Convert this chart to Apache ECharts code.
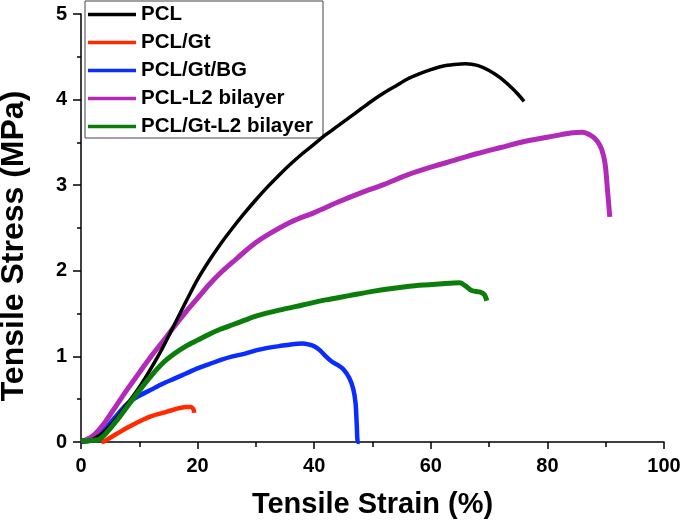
<!DOCTYPE html>
<html>
<head>
<meta charset="utf-8">
<script src="https://cdn.jsdelivr.net/npm/echarts@6/dist/echarts.min.js"></script>
<style>html,body{margin:0;padding:0;background:#fff}#c{width:685px;height:520px}</style>
</head>
<body>
<div id="c"></div>
<script>
// Tensile strain (%) / stress (MPa) pairs
const seriesNames = ['PCL', 'PCL/Gt', 'PCL/Gt/BG', 'PCL-L2 bilayer', 'PCL/Gt-L2 bilayer'];
const pclData = [[0,0],[1,0.01],[2,0.03],[3,0.07],[4,0.12],[6,0.27],[8,0.45],[10,0.64],[12,0.86],[14,1.10],[16,1.37],[18,1.64],[20,1.90],[22,2.12],[24,2.32],[26,2.50],[28,2.67],[30,2.83],[32,2.98],[34,3.12],[36,3.25],[38,3.37],[40,3.48],[42,3.59],[44,3.69],[46,3.79],[48,3.89],[50,3.99],[52,4.08],[54,4.16],[56,4.24],[58,4.30],[60,4.35],[62,4.39],[64,4.41],[66,4.42],[68,4.40],[70,4.34],[72,4.25],[74,4.13],[75,4.06],[76,3.98]];
const pclGtData = [[3.5,0],[4,0.01],[5,0.05],[6,0.09],[8,0.17],[10,0.24],[12,0.30],[14,0.34],[16,0.38],[18,0.41],[18.8,0.41],[19.3,0.38],[19.4,0.34]];
const pclGtBgData = [[0,0],[1,0.01],[2,0.03],[3,0.07],[4,0.14],[6,0.30],[8,0.45],[10,0.54],[12,0.61],[14,0.68],[16,0.74],[18,0.80],[20,0.86],[22,0.91],[24,0.96],[26,1.00],[28,1.03],[30,1.07],[32,1.10],[34,1.12],[36,1.14],[38,1.15],[39,1.14],[40,1.12],[41,1.07],[42,1.00],[43,0.94],[44,0.90],[45,0.85],[46,0.75],[46.7,0.62],[47.1,0.45],[47.3,0.20],[47.5,0.0],[47.8,0.0]];
const pclL2Data = [[0,0],[2,0.07],[4,0.22],[6,0.42],[8,0.62],[10,0.81],[12,1.00],[14,1.17],[16,1.35],[18,1.52],[20,1.68],[22,1.84],[24,1.98],[26,2.10],[28,2.22],[30,2.33],[32,2.42],[36,2.57],[40,2.68],[44,2.80],[48,2.91],[52,3.01],[56,3.12],[60,3.21],[64,3.29],[68,3.37],[72,3.44],[76,3.51],[80,3.56],[84,3.61],[86,3.62],[87.5,3.58],[88.5,3.52],[89.3,3.42],[89.9,3.25],[90.3,2.95],[90.7,2.63]];
const pclGtL2Data = [[0,0.02],[1,0.01],[2,0.02],[3,0.03],[4,0.08],[6,0.24],[8,0.42],[10,0.60],[12,0.77],[14,0.92],[16,1.03],[18,1.12],[20,1.19],[22,1.26],[24,1.32],[26,1.37],[28,1.42],[30,1.47],[34,1.54],[38,1.60],[42,1.66],[46,1.71],[50,1.76],[54,1.80],[58,1.83],[62,1.85],[65,1.86],[66,1.82],[67,1.77],[68.5,1.75],[69.2,1.72],[69.6,1.65]];
const xTicks = [0, 20, 40, 60, 80, 100];
const yTicks = [0, 1, 2, 3, 4, 5];

const colors = ['#000000', '#ff2a00', '#0a2cff', '#b22ab8', '#0b7d0b'];
const widths = [3.5, 4.5, 4.5, 5, 5];
const allData = [pclData, pclGtData, pclGtBgData, pclL2Data, pclGtL2Data];

const W = 685, H = 520;
const G = { left: 81, right: 21, top: 14, bottom: 78 };
const gridW = W - G.left - G.right, gridH = H - G.top - G.bottom;

const chart = echarts.init(document.getElementById('c'));
const font = 'Liberation Sans, Arial, sans-serif';
const tickStyle = { color: '#000', width: 1.5 };
const xMin = xTicks[0], xMax = xTicks[xTicks.length - 1];
const yMin = yTicks[0], yMax = yTicks[yTicks.length - 1];

// helper axes that only carry outward-pointing ticks (placed on the main axis lines)
function xTickAxis(interval, len) {
  return { type: 'value', gridIndex: 0, min: xMin, max: xMax, interval: interval, position: 'top', offset: -gridH,
    axisLine: { show: false, onZero: false }, axisLabel: { show: false }, splitLine: { show: false },
    axisTick: { show: true, inside: true, length: len, lineStyle: tickStyle }, silent: true };
}
function yTickAxis(interval, len) {
  return { type: 'value', gridIndex: 0, min: yMin, max: yMax, interval: interval, position: 'right', offset: -gridW,
    axisLine: { show: false, onZero: false }, axisLabel: { show: false }, splitLine: { show: false },
    axisTick: { show: true, inside: true, length: len, lineStyle: tickStyle }, silent: true };
}

chart.setOption({
  animation: false,
  backgroundColor: '#fff',
  grid: { left: G.left, right: G.right, top: G.top, bottom: G.bottom, containLabel: false, outerBoundsMode: 'none' },
  legend: {
    orient: 'vertical', left: 85, top: 1,
    padding: [3, 10, 1, 3],
    icon: 'rect',
    itemWidth: 48, itemHeight: 3.5, itemGap: 7,
    borderColor: '#444', borderWidth: 1, backgroundColor: '#fff',
    textStyle: { fontFamily: font, fontWeight: 'bold', fontSize: 20.5, lineHeight: 20, color: '#000' },
    data: seriesNames
  },
  xAxis: [{
    type: 'value', min: xMin, max: xMax, interval: 20, position: 'bottom',
    name: 'Tensile Strain (%)', nameLocation: 'middle', nameGap: 48,
    nameTextStyle: { fontFamily: font, fontWeight: 'bold', fontSize: 29, color: '#000' },
    axisLine: { show: true, onZero: false, lineStyle: { color: '#000', width: 1.5 } },
    axisTick: { show: true, length: 7, lineStyle: tickStyle },
    axisLabel: { fontFamily: font, fontWeight: 'bold', fontSize: 20, color: '#000', margin: 14 },
    splitLine: { show: false }
  }, xTickAxis(20, 7), xTickAxis(10, 5)],
  yAxis: [{
    type: 'value', min: yMin, max: yMax, interval: 1, position: 'left',
    name: 'Tensile Stress (MPa)', nameLocation: 'middle', nameGap: 51, nameRotate: 90,
    nameTextStyle: { fontFamily: font, fontWeight: 'bold', fontSize: 32, color: '#000', padding: [0, 36, 0, 0] },
    axisLine: { show: true, onZero: false, lineStyle: { color: '#000', width: 1.5 } },
    axisTick: { show: true, length: 8, lineStyle: tickStyle },
    axisLabel: { fontFamily: font, fontWeight: 'bold', fontSize: 20, color: '#000', margin: 14 },
    splitLine: { show: false }
  }, yTickAxis(1, 8), yTickAxis(0.5, 4)],
  series: seriesNames.map((n, i) => ({
    name: n, type: 'line', data: allData[i], symbol: 'none', smooth: 0.3,
    xAxisIndex: 0, yAxisIndex: 0,
    lineStyle: { color: colors[i], width: widths[i] },
    itemStyle: { color: colors[i] },
    z: i === 0 ? 6 : 2 + i
  }))
});
</script>
</body>
</html>
